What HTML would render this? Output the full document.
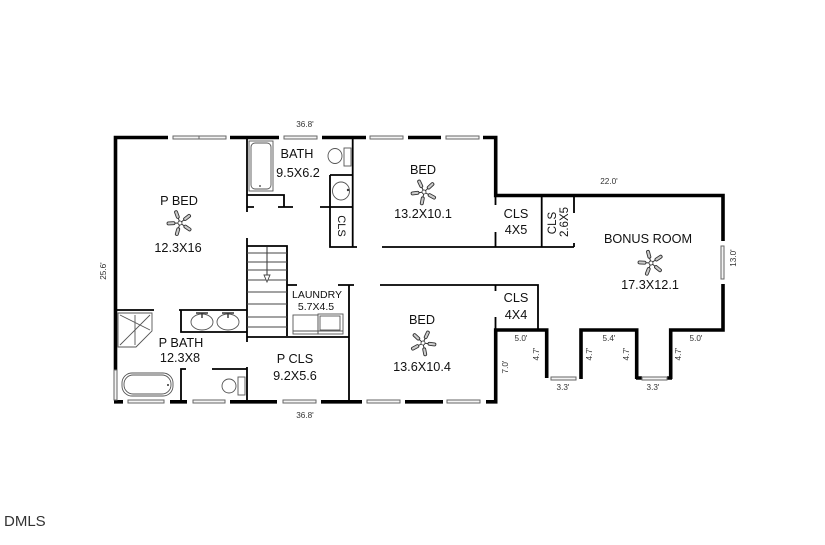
<!DOCTYPE html>
<html>
<head>
<meta charset="utf-8">
<style>
html,body{margin:0;padding:0;background:#fff;width:825px;height:545px;overflow:hidden}
svg{display:block;filter:blur(.3px)}
text{font-family:"Liberation Sans",sans-serif;fill:#111;text-anchor:middle}
.l{font-size:12.700px}
.d{font-size:8.200px;fill:#333}
.w{stroke:#000;stroke-width:3.600;fill:none;stroke-linecap:butt;stroke-linejoin:miter}
.t{stroke:#000;stroke-width:1.800;fill:none}
.f{stroke:#555;stroke-width:.9;fill:none}
.win{fill:#f4f4f4;stroke:#666;stroke-width:1}
</style>
</head>
<body>
<svg width="825" height="545" viewBox="0 0 825 545" xmlns="http://www.w3.org/2000/svg">
<defs>
<g id="fan">
  <g id="blade"><line x1="0" y1="0" x2="0" y2="-12" stroke="#333" stroke-width="1"/><rect x="-1.500" y="-13" width="3" height="8" rx="1.500" fill="#ccc" stroke="#333" stroke-width=".9"/></g>
  <use href="#blade" transform="rotate(72)"/>
  <use href="#blade" transform="rotate(144)"/>
  <use href="#blade" transform="rotate(216)"/>
  <use href="#blade" transform="rotate(288)"/>
  <circle r="2" fill="#fff" stroke="#333" stroke-width=".8"/>
</g>
</defs>

<!-- exterior walls -->
<path class="w" d="M168 137.500H115.500V370"/>
<path class="w" d="M230 137.500H279M322 137.500H366M408 137.500H441M483 137.500H495.700V195.500H723V241M723 284V330H670.700V379M636.700 379V330H581V379M546.700 378V330H495.700V401.800H486"/>
<path class="w" d="M114 401.800H123M170 401.800H187M230 401.800H277M321 401.800H362M405 401.800H443M636 378H642M667 378H672"/>

<!-- windows -->
<rect class="win" x="173" y="136" width="53" height="3"/><line x1="199" y1="136" x2="199" y2="139" stroke="#666"/>
<rect class="win" x="284" y="136" width="33" height="3"/>
<rect class="win" x="370" y="136" width="33" height="3"/>
<rect class="win" x="446" y="136" width="33" height="3"/>
<rect class="win" x="128" y="400" width="36" height="3"/>
<rect class="win" x="193" y="400" width="32" height="3"/>
<rect class="win" x="283" y="400" width="33" height="3"/>
<rect class="win" x="367" y="400" width="33" height="3"/>
<rect class="win" x="447" y="400" width="33" height="3"/>
<rect class="win" x="551" y="377" width="25" height="3"/>
<rect class="win" x="642" y="377" width="25" height="3"/>
<rect class="win" x="721" y="246" width="3" height="33"/>
<rect class="win" x="114" y="370" width="3" height="30"/>

<!-- interior walls -->
<path class="t" d="M247 138V212M247 195H284V207M247 207H254M278 207H293M320 207H353M330 175H353M330 175V207M330 207V247H357M352.700 138V247"/>
<path class="t" d="M247 238V342M247 367V402M247 246H287V336M247 337H349M349 285V402M287 285H297M338 285H354"/>
<path class="t" d="M115 310H154M179 310H247M181 310V332H247"/>
<path class="t" d="M181 402V369H186M212 369H247"/>
<path class="t" d="M382 247H574M495.500 196V205M495.500 232V247M541.700 195V247M574 195V213M574 243V247"/>
<path class="t" d="M380 285H538V330M495.500 285V291M495.500 317V330"/>

<!-- stairs -->
<path d="M247 253H287M247 262H287M247 270H287M247 280H287M247 292H287M247 304H287M247 317H287M247 327H287M267 247V275" stroke="#444" stroke-width="1.100" fill="none"/>
<path d="M264 275H270L267 282Z" fill="#fff" stroke="#444" stroke-width=".9"/>

<!-- fixtures -->
<rect class="f" x="249" y="141" width="24" height="50"/>
<rect class="f" x="251" y="143" width="20" height="46" rx="4"/>
<circle cx="260" cy="186" r=".9" fill="#333"/>
<rect class="f" x="344" y="148" width="7" height="18"/>
<ellipse class="f" cx="335" cy="156" rx="7" ry="7.500"/>
<ellipse class="f" cx="341" cy="191" rx="8.500" ry="9"/>
<circle cx="348" cy="190" r="1.200" fill="#333"/>
<ellipse class="f" cx="202" cy="322" rx="11" ry="8"/>
<ellipse class="f" cx="228" cy="322" rx="11" ry="8"/>
<path d="M196 313H208M222 313H234M202 313V318M228 313V318" stroke="#333" stroke-width="1.400" fill="none"/>
<path class="f" d="M118 313H152V331L136 347H118Z"/>
<path class="f" d="M120 315L150 330M120 345L150 315M135 315V345"/>
<rect class="f" x="122" y="373" width="51" height="23" rx="10"/>
<rect class="f" x="124" y="375" width="47" height="19" rx="9"/>
<circle cx="168" cy="385" r="1" fill="#333"/>
<rect class="f" x="238" y="377" width="7" height="18"/>
<circle class="f" cx="229" cy="386" r="7"/>
<rect class="f" x="293" y="315" width="25" height="19"/>
<rect class="f" x="318" y="314" width="25" height="20"/>
<rect class="f" x="320" y="316" width="20" height="14"/>
<line x1="293" y1="331" x2="343" y2="331" stroke="#555" stroke-width=".9"/>

<!-- fans -->
<use href="#fan" transform="translate(180 223) rotate(-20)"/>
<use href="#fan" transform="translate(424 192) rotate(-25)"/>
<use href="#fan" transform="translate(423 343) rotate(25)"/>
<use href="#fan" transform="translate(651 263) rotate(-15)"/>

<!-- labels -->
<text class="l" x="179" y="205">P BED</text>
<text class="l" x="178" y="252">12.3X16</text>
<text class="l" x="297" y="158">BATH</text>
<text class="l" x="298" y="177">9.5X6.2</text>
<text class="l" style="font-size:11px" transform="translate(338 226) rotate(90)">CLS</text>
<text class="l" x="423" y="174">BED</text>
<text class="l" x="423" y="218">13.2X10.1</text>
<text class="l" x="516" y="218">CLS</text>
<text class="l" x="516" y="234">4X5</text>
<text class="l" style="font-size:11.500px" transform="translate(556 223) rotate(-90)">CLS</text>
<text class="l" style="font-size:11.500px" transform="translate(568 222) rotate(-90)">2.6X5</text>
<text class="l" x="648" y="243">BONUS ROOM</text>
<text class="l" x="650" y="289">17.3X12.1</text>
<text class="l" x="181" y="347">P BATH</text>
<text class="l" x="180" y="362">12.3X8</text>
<text class="l" style="font-size:10.500px" x="317" y="298">LAUNDRY</text>
<text class="l" style="font-size:10.500px" x="316" y="310">5.7X4.5</text>
<text class="l" x="295" y="363">P CLS</text>
<text class="l" x="295" y="380">9.2X5.6</text>
<text class="l" x="422" y="324">BED</text>
<text class="l" x="422" y="371">13.6X10.4</text>
<text class="l" x="516" y="302">CLS</text>
<text class="l" x="516" y="319">4X4</text>

<!-- dimensions -->
<text class="d" x="305" y="127">36.8'</text>
<text class="d" x="305" y="418">36.8'</text>
<text class="d" transform="translate(106 271) rotate(-90)">25.6'</text>
<text class="d" x="609" y="184">22.0'</text>
<text class="d" transform="translate(736 258) rotate(-90)">13.0'</text>
<text class="d" x="521" y="341">5.0'</text>
<text class="d" transform="translate(539 354) rotate(-90)">4.7'</text>
<text class="d" transform="translate(508 367) rotate(-90)">7.0'</text>
<text class="d" x="563" y="390">3.3'</text>
<text class="d" x="609" y="341">5.4'</text>
<text class="d" transform="translate(592 354) rotate(-90)">4.7'</text>
<text class="d" transform="translate(629 354) rotate(-90)">4.7'</text>
<text class="d" x="653" y="390">3.3'</text>
<text class="d" x="696" y="341">5.0'</text>
<text class="d" transform="translate(681 354) rotate(-90)">4.7'</text>

<text x="4" y="526" style="font-size:15px;text-anchor:start;fill:#333">DMLS</text>
</svg>
</body>
</html>
